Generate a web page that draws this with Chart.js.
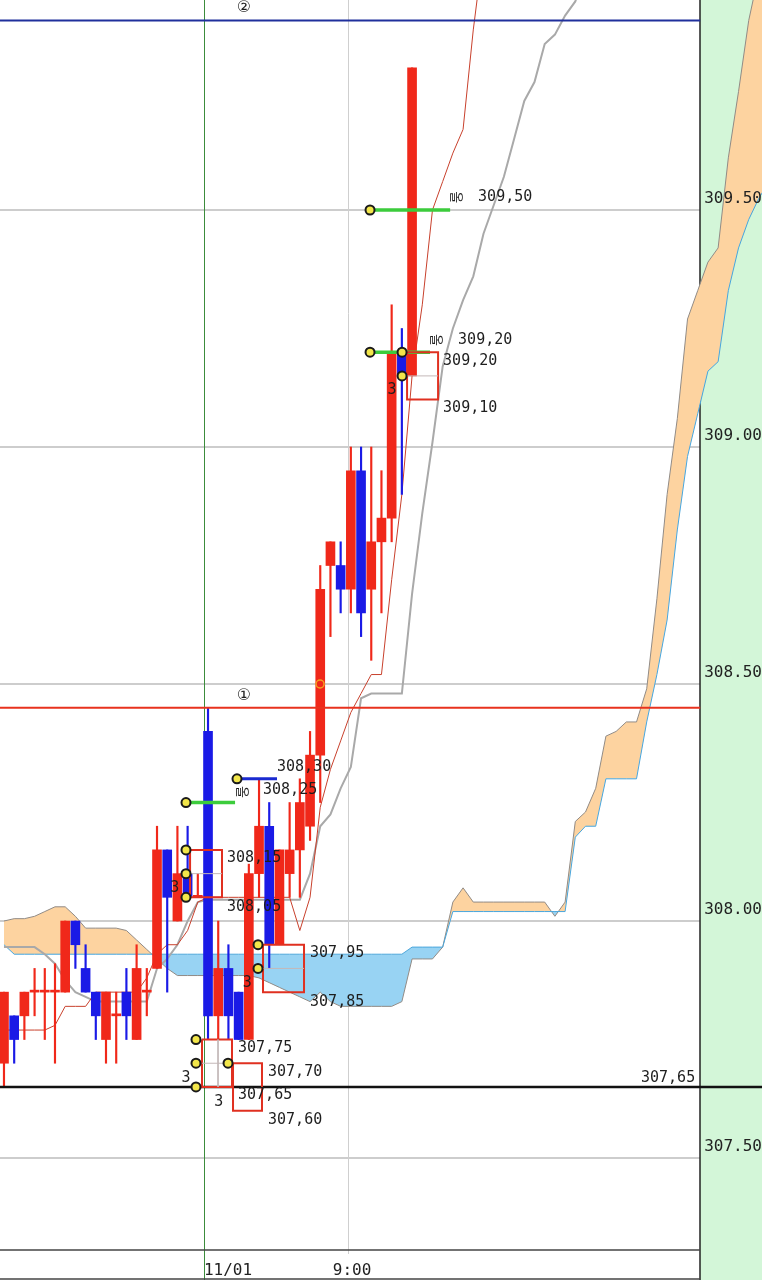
<!DOCTYPE html>
<html>
<head>
<meta charset="utf-8">
<script src="https://cdn.jsdelivr.net/npm/chart.js@4.4.1/dist/chart.umd.min.js"></script>
<style>
    html, body { margin: 0; padding: 0; background: #fff; overflow: hidden; }
    canvas { display: block; }
</style>
</head>
<body>
<canvas id="chartIchimoku" width="762" height="1280"></canvas>
<script>
// candles, one per bar index
const opens  = [307.70, 307.80, 307.80, 307.85, 307.85, 307.85, 307.85, 308.00, 307.90, 307.85,
                307.75, 307.80, 307.85, 307.75, 307.85, 307.90, 308.15, 308.00, 308.10, 308.05,
                308.40, 307.80, 307.90, 307.85, 307.75, 308.10, 308.20, 307.95, 308.10, 308.15,
                308.20, 308.35, 308.75, 308.75, 308.70, 308.95, 308.70, 308.80, 308.85, 309.20,
                309.15];
const highs  = [307.85, 307.80, 307.85, 307.90, 307.90, 307.91, 308.00, 308.00, 307.95, 307.85,
                307.85, 307.85, 307.90, 307.95, 307.90, 308.20, 308.15, 308.20, 308.20, 308.10,
                308.45, 308.00, 307.95, 307.85, 308.12, 308.30, 308.25, 308.15, 308.25, 308.30,
                308.40, 308.75, 308.80, 308.80, 309.00, 309.00, 309.00, 308.95, 309.30, 309.25,
                309.80];
const lows   = [307.65, 307.70, 307.75, 307.80, 307.75, 307.70, 307.85, 307.90, 307.85, 307.75,
                307.70, 307.70, 307.75, 307.75, 307.80, 307.90, 307.85, 308.00, 308.05, 308.05,
                307.75, 307.75, 307.75, 307.75, 307.75, 308.05, 307.90, 307.95, 308.05, 308.05,
                308.17, 308.25, 308.60, 308.65, 308.65, 308.60, 308.55, 308.65, 308.80, 308.90,
                309.15];
const closes = [307.85, 307.75, 307.85, 307.85, 307.85, 307.85, 308.00, 307.95, 307.85, 307.80,
                307.85, 307.80, 307.80, 307.90, 307.85, 308.15, 308.05, 308.10, 308.05, 308.05,
                307.80, 307.90, 307.80, 307.75, 308.10, 308.20, 307.95, 308.15, 308.15, 308.25,
                308.35, 308.70, 308.80, 308.70, 308.95, 308.65, 308.80, 308.85, 309.20, 309.15,
                309.80];

// red conversion line and grey base line
const tenkan = [307.77, 307.77, 307.77, 307.77, 307.77, 307.78, 307.82, 307.82, 307.82, 307.85,
                307.85, 307.85, 307.85, 307.85, 307.88, 307.93, 307.95, 307.95, 307.98, 308.04,
                308.05, 308.05, 308.05, 308.05, 308.05, 308.05, 308.05, 308.05, 308.05, 307.98,
                308.05, 308.24, 308.32, 308.38, 308.44, 308.48, 308.52, 308.52, 308.72, 308.90,
                309.15, 309.30, 309.50, 309.56, 309.62, 309.67, 309.88, 310.05];
const kijun  = [307.945, 307.945, 307.945, 307.945, 307.93, 307.91, 307.875, 307.85, 307.84, 307.83,
                307.83, 307.83, 307.83, 307.83, 307.83, 307.90, 307.92, 307.95, 308.00, 308.04,
                308.045, 308.045, 308.045, 308.045, 308.045, 308.045, 308.045, 308.045, 308.045, 308.045,
                308.10, 308.20, 308.225, 308.28, 308.325, 308.47, 308.48, 308.48, 308.48, 308.48,
                308.69, 308.86, 309.01, 309.17, 309.25, 309.31, 309.36, 309.45, 309.51, 309.57,
                309.65, 309.73, 309.77, 309.85, 309.87, 309.91, 309.94, 310.00];

// cloud, leading spans
const spanA = [308.00, 308.005, 308.005, 308.01, 308.02, 308.03, 308.03, 308.01, 307.985, 307.985,
               307.985, 307.985, 307.98, 307.96, 307.94, 307.92, 307.90, 307.885, 307.885, 307.885,
               307.885, 307.885, 307.885, 307.885, 307.885, 307.88, 307.87, 307.86, 307.85, 307.84,
               307.83, 307.85, 307.83, 307.82, 307.82, 307.82, 307.82, 307.82, 307.82, 307.83,
               307.92, 307.92, 307.92, 307.945, 308.04, 308.07, 308.04, 308.04, 308.04, 308.04,
               308.04, 308.04, 308.04, 308.04, 308.01, 308.04, 308.21, 308.23, 308.28, 308.39,
               308.40, 308.42, 308.42, 308.49, 308.68, 308.90, 309.06, 309.27, 309.33, 309.39,
               309.42, 309.61, 309.75, 309.90, 310.00, 310.10];
const spanB = [307.95, 307.93, 307.93, 307.93, 307.93, 307.93, 307.93, 307.93, 307.93, 307.93,
               307.93, 307.93, 307.93, 307.93, 307.93, 307.93, 307.93, 307.93, 307.93, 307.93,
               307.93, 307.93, 307.93, 307.93, 307.93, 307.93, 307.93, 307.93, 307.93, 307.93,
               307.93, 307.93, 307.93, 307.93, 307.93, 307.93, 307.93, 307.93, 307.93, 307.93,
               307.945, 307.945, 307.945, 307.945, 308.02, 308.02, 308.02, 308.02, 308.02, 308.02,
               308.02, 308.02, 308.02, 308.02, 308.02, 308.02, 308.177, 308.20, 308.20, 308.30,
               308.30, 308.30, 308.30, 308.42, 308.52, 308.635, 308.825, 308.98, 309.07, 309.16,
               309.18, 309.33, 309.42, 309.48, 309.525, 309.56];

const yTickValues = [307.5, 308.0, 308.5, 309.0, 309.5];
const xTickValues = [21.96, 34.12];
const xTickLabels = ['11/01', '9:00'];

// bar index where the day and the session start
const dayLine = 19.61;
const sessionLine = 33.73;
const priceAxisEdge = 68.24;

// level lines
const levelTwo = 309.90;
const levelOne = 308.45;
const levelLow = 307.65;

// signal marks [fromIndex, toIndex, price]
const greenMarks = [[35.88, 43.73, 309.50], [35.88, 41.76, 309.20], [17.84, 22.65, 308.25]];
const blueMarks = [[22.84, 26.76, 308.30]];
// boxes [fromIndex, toIndex, topPrice, bottomPrice]
const boxes = [[18.24, 21.37, 308.15, 308.05], [25.39, 29.41, 307.95, 307.85],
               [19.41, 22.35, 307.75, 307.65], [22.45, 25.29, 307.70, 307.60],
               [39.51, 42.55, 309.20, 309.10]];
const boxMidLines = [[18.24, 21.37, 308.10], [25.39, 29.41, 307.90], [19.41, 22.35, 307.70], [39.51, 42.55, 309.15]];
const boxSplit = [[20.98, 307.75, 307.65]];
const dots = [[35.88, 309.50], [35.88, 309.20], [39.02, 309.20], [39.02, 309.15], [17.84, 308.25],
              [22.84, 308.30], [17.84, 308.15], [17.84, 308.10], [17.84, 308.05], [24.90, 307.95],
              [24.90, 307.90], [18.82, 307.75], [18.82, 307.70], [18.82, 307.65], [21.96, 307.70]];
const hollowMarks = [[30.98, 308.50]];

// text notes [text, index, price]
const notes = [
    ['309,50', 46.47, 309.527], ['309,20', 44.51, 309.226], ['309,20', 43.04, 309.181],
    ['309,10', 43.04, 309.082], ['3', 37.6, 309.12], ['308,30', 26.76, 308.325],
    ['308,25', 25.39, 308.276], ['308,15', 21.86, 308.133], ['308,05', 21.86, 308.03],
    ['3', 16.3, 308.07], ['307,95', 30.0, 307.932], ['307,85', 30.0, 307.829],
    ['3', 23.4, 307.869], ['307,75', 22.94, 307.732], ['307,70', 25.88, 307.681],
    ['307,65', 22.94, 307.633], ['307,60', 25.88, 307.58], ['3', 17.4, 307.669],
    ['3', 20.6, 307.618]
];
const sideNotes = [['올', 44.41, 309.527], ['올', 42.45, 309.226], ['올', 23.43, 308.272]];
const levelNotes = [['①', 23.53, 308.475], ['②', 23.53, 309.926]];
const lastNote = ['307,65', 67.75, 307.669];

(function() {
    const red = '#f0281a';
    const blue = '#1a1ae6';
    const labelFont = '15px "DejaVu Sans Mono", "Noto Sans CJK KR", monospace';

    function points(series) {
        return series.map(function (v, i) { return {x: i, y: v}; });
    }

    function segments(list) {
        const out = [];
        list.forEach(function (s) {
            out.push({x: s[0], y: s[2]}, {x: s[1], y: s[2]}, {x: s[1], y: null});
        });
        return out;
    }

    function boxPath(list) {
        const out = [];
        list.forEach(function (b) {
            out.push({x: b[0], y: b[2]}, {x: b[1], y: b[2]}, {x: b[1], y: b[3]},
                     {x: b[0], y: b[3]}, {x: b[0], y: b[2]}, {x: b[0], y: null});
        });
        return out;
    }

    function level(price, toIndex) {
        return [{x: -1, y: price}, {x: toIndex, y: price}];
    }

    function noPadding(scale) {
        scale.paddingLeft = 0;
        scale.paddingRight = 0;
        scale.paddingTop = 0;
        scale.paddingBottom = 0;
    }

    const candleColors = opens.map(function (o, i) { return closes[i] >= o ? red : blue; });

    const decor = {
        id: 'decor',
        beforeDatasetsDraw(chart) {
            const ctx = chart.ctx;
            const x = chart.scales.x;
            const edge = Math.round(x.getPixelForValue(priceAxisEdge));
            const bottom = chart.chartArea.bottom;
            ctx.save();
            ctx.fillStyle = '#d3f6d8';
            ctx.fillRect(edge, 0, chart.width - edge, chart.height);

            ctx.lineWidth = 1;
            ctx.strokeStyle = '#3c8c3c';
            const d = Math.round(x.getPixelForValue(dayLine)) + 0.5;
            ctx.beginPath(); ctx.moveTo(d, 0); ctx.lineTo(d, chart.height); ctx.stroke();

            ctx.strokeStyle = '#cfcfcf';
            const s = Math.round(x.getPixelForValue(sessionLine)) + 0.5;
            ctx.beginPath(); ctx.moveTo(s, 0); ctx.lineTo(s, bottom + 4); ctx.stroke();

            ctx.strokeStyle = '#222';
            ctx.lineWidth = 1.5;
            ctx.beginPath(); ctx.moveTo(edge, 0); ctx.lineTo(edge, chart.height); ctx.stroke();

            ctx.strokeStyle = '#444';
            ctx.beginPath(); ctx.moveTo(0, bottom); ctx.lineTo(edge, bottom); ctx.stroke();
            ctx.beginPath(); ctx.moveTo(0, chart.height - 1); ctx.lineTo(edge, chart.height - 1); ctx.stroke();
            ctx.restore();
        },
        afterDatasetsDraw(chart) {
            const ctx = chart.ctx;
            const x = chart.scales.x;
            const y = chart.scales.y;
            ctx.save();
            ctx.fillStyle = '#1e1e1e';
            ctx.font = labelFont;
            ctx.textBaseline = 'middle';
            ctx.textAlign = 'left';
            notes.forEach(function (n) {
                ctx.fillText(n[0], x.getPixelForValue(n[1]), y.getPixelForValue(n[2]));
            });
            ctx.textAlign = 'right';
            ctx.fillText(lastNote[0], x.getPixelForValue(lastNote[1]), y.getPixelForValue(lastNote[2]));

            ctx.textAlign = 'center';
            ctx.font = '16px "DejaVu Sans", "Noto Sans CJK KR", sans-serif';
            levelNotes.forEach(function (n) {
                ctx.fillText(n[0], x.getPixelForValue(n[1]), y.getPixelForValue(n[2]));
            });

            ctx.font = '13px "Noto Sans CJK KR", sans-serif';
            sideNotes.forEach(function (n) {
                ctx.save();
                ctx.translate(x.getPixelForValue(n[1]), y.getPixelForValue(n[2]));
                ctx.rotate(Math.PI / 2);
                ctx.fillText(n[0], 0, 0);
                ctx.restore();
            });
            ctx.restore();
        }
    };

    function renderChart(idElement) {
        return new Chart(idElement, {
            type: 'line',
            data: {
                datasets: [
                    {
                        label: 'spanA',
                        data: points(spanA),
                        borderColor: '#918b86',
                        borderWidth: 1,
                        pointRadius: 0,
                        fill: {target: '+1', above: '#fdd3a0', below: '#98d3f3'},
                        order: 10
                    },
                    {
                        label: 'spanB',
                        data: points(spanB),
                        borderColor: '#4aa6dc',
                        borderWidth: 1,
                        pointRadius: 0,
                        fill: false,
                        order: 9
                    },
                    {
                        label: 'kijun',
                        data: points(kijun),
                        borderColor: '#a9a9a9',
                        borderWidth: 2,
                        pointRadius: 0,
                        order: 8
                    },
                    {
                        label: 'tenkan',
                        data: points(tenkan),
                        borderColor: '#c8402c',
                        borderWidth: 1,
                        pointRadius: 0,
                        order: 7
                    },
                    {
                        type: 'bar',
                        label: 'wicks',
                        data: lows.map(function (l, i) { return {x: i, y: [l, highs[i]]}; }),
                        backgroundColor: candleColors,
                        barThickness: 1.5,
                        grouped: false,
                        order: 6
                    },
                    {
                        type: 'bar',
                        label: 'bodies',
                        data: opens.map(function (o, i) { return {x: i, y: [o, closes[i]]}; }),
                        backgroundColor: candleColors,
                        barThickness: 9,
                        minBarLength: 2,
                        grouped: false,
                        order: 5
                    },
                    {
                        label: 'level2',
                        data: level(levelTwo, priceAxisEdge),
                        borderColor: '#1f2f9c',
                        borderWidth: 2,
                        pointRadius: 0,
                        order: 3
                    },
                    {
                        label: 'level1',
                        data: level(levelOne, priceAxisEdge),
                        borderColor: '#e8321e',
                        borderWidth: 2,
                        pointRadius: 0,
                        order: 3
                    },
                    {
                        label: 'levelLow',
                        data: level(levelLow, 80),
                        borderColor: '#111',
                        borderWidth: 2.5,
                        pointRadius: 0,
                        order: 3
                    },
                    {
                        label: 'boxMid',
                        data: segments(boxMidLines).concat(boxSplit.map(function (b) {
                            return [{x: b[0], y: b[1]}, {x: b[0], y: b[2]}, {x: b[0], y: null}];
                        }).flat()),
                        borderColor: '#c4b8b8',
                        borderWidth: 1,
                        pointRadius: 0,
                        order: 2
                    },
                    {
                        label: 'boxes',
                        data: boxPath(boxes),
                        borderColor: '#e03020',
                        borderWidth: 2,
                        pointRadius: 0,
                        order: 2
                    },
                    {
                        label: 'greenMarks',
                        data: segments(greenMarks),
                        borderColor: '#3ccc3c',
                        borderWidth: 3.5,
                        pointRadius: 0,
                        order: 2
                    },
                    {
                        label: 'blueMarks',
                        data: segments(blueMarks),
                        borderColor: '#1a2ad0',
                        borderWidth: 3,
                        pointRadius: 0,
                        order: 2
                    },
                    {
                        label: 'hollow',
                        data: hollowMarks.map(function (d) { return {x: d[0], y: d[1]}; }),
                        showLine: false,
                        pointRadius: 4,
                        pointBackgroundColor: 'rgba(0,0,0,0)',
                        pointBorderColor: '#f5a020',
                        pointBorderWidth: 1.5,
                        order: 1
                    },
                    {
                        label: 'dots',
                        data: dots.map(function (d) { return {x: d[0], y: d[1]}; }),
                        showLine: false,
                        pointRadius: 4.5,
                        pointBackgroundColor: '#f2e64a',
                        pointBorderColor: '#1a1a1a',
                        pointBorderWidth: 2,
                        order: 1
                    }
                ]
            },
            options: {
                responsive: false,
                animation: false,
                events: [],
                devicePixelRatio: 1,
                layout: {padding: 0, autoPadding: false},
                plugins: {
                    legend: {display: false},
                    tooltip: {enabled: false}
                },
                scales: {
                    x: {
                        type: 'linear',
                        min: -0.39,
                        max: 74.3,
                        offset: false,
                        grid: {display: false},
                        border: {display: false},
                        afterBuildTicks: function (scale) {
                            scale.ticks = xTickValues.map(function (v) { return {value: v}; });
                        },
                        afterFit: function (scale) {
                            scale.height = 30;
                            noPadding(scale);
                        },
                        ticks: {
                            autoSkip: false,
                            maxRotation: 0,
                            padding: 3,
                            color: '#222',
                            font: {family: '"DejaVu Sans Mono", monospace', size: 16},
                            callback: function (value, index) { return xTickLabels[index]; }
                        }
                    },
                    y: {
                        type: 'linear',
                        position: 'right',
                        min: 307.306,
                        max: 309.943,
                        grid: {color: '#cdcdcd', lineWidth: 2, drawTicks: false},
                        border: {display: false},
                        afterBuildTicks: function (scale) {
                            scale.ticks = yTickValues.map(function (v) { return {value: v}; });
                        },
                        afterFit: function (scale) {
                            scale.width = 0;
                            noPadding(scale);
                        },
                        ticks: {
                            mirror: true,
                            padding: 0,
                            labelOffset: -11,
                            z: 1,
                            color: '#222',
                            font: {family: '"DejaVu Sans Mono", monospace', size: 16},
                            callback: function (value) { return value.toFixed(2); }
                        }
                    }
                }
            },
            plugins: [decor]
        });
    }

    window.ichimokuChart = renderChart('chartIchimoku');
})();
</script>
</body>
</html>
